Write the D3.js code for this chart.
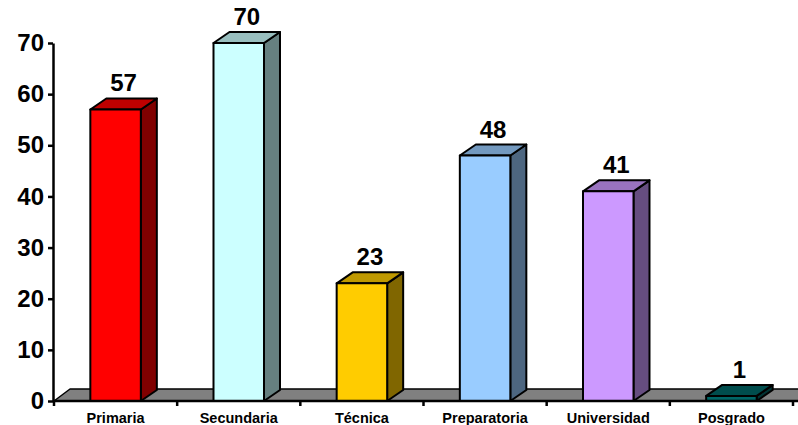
<!DOCTYPE html>
<html>
<head>
<meta charset="utf-8">
<script src="https://cdn.jsdelivr.net/npm/d3@7"></script>
<style>
  html, body { margin: 0; padding: 0; background: #fff; }
  svg { display: block; }
  text { font-family: "Liberation Sans", Arial, sans-serif; font-weight: bold; fill: #000; }
</style>
</head>
<body>
<svg id="chart" width="798" height="425"></svg>
<script>
// Nivel de estudios
const categories = ["Primaria", "Secundaria", "Técnica", "Preparatoria", "Universidad", "Posgrado"];
const values = [57, 70, 23, 48, 41, 1];
const colors = ["#FF0000", "#CCFFFF", "#FFCC00", "#99CCFF", "#CC99FF", "#006666"];
const yTicks = [0, 10, 20, 30, 40, 50, 60, 70];

const svg = d3.select("#chart");
const W = 798, H = 425;

// plot frame on the front plane
const x0 = 54, x1 = 793;
const yBase = 401, yTop = 43;
// oblique depth offset of the 3D extrusion
const dx = 16, dy = -11;

const x = d3.scaleBand().domain(categories).range([x0, x1]).padding(0);
const y = d3.scaleLinear().domain([0, 70]).range([yBase, yTop]);
const barW = x.bandwidth() * 0.41;

const shade = (c, k) => {
  const r = d3.rgb(c);
  return d3.rgb(r.r * k, r.g * k, r.b * k).formatHex();
};

// floor
svg.append("path")
  .attr("d", `M${x0},${yBase} L${x0 + dx},${yBase + dy - 1} L${W + 20},${yBase + dy - 1} L${W + 4},${yBase} Z`)
  .attr("fill", "#808080")
  .attr("stroke", "#000")
  .attr("stroke-width", 1.5)
  .attr("stroke-linejoin", "round");

// bars
const bars = svg.append("g").selectAll("g")
  .data(categories.map((c, i) => ({ cat: c, v: values[i], color: colors[i] })))
  .join("g");

bars.each(function (d) {
  const g = d3.select(this);
  const cx = x(d.cat) + x.bandwidth() / 2;
  const l = cx - barW / 2, r = cx + barW / 2;
  const t = y(d.v), b = y(0);
  const common = s => s.attr("stroke", "#000").attr("stroke-width", 2).attr("stroke-linejoin", "round");
  // side face
  common(g.append("path")
    .attr("d", `M${r},${b} L${r + dx},${b + dy} L${r + dx},${t + dy} L${r},${t} Z`)
    .attr("fill", shade(d.color, 0.5)));
  // top face
  common(g.append("path")
    .attr("d", `M${l},${t} L${l + dx},${t + dy} L${r + dx},${t + dy} L${r},${t} Z`)
    .attr("fill", shade(d.color, 0.75)));
  // front face
  common(g.append("rect")
    .attr("x", l).attr("y", t)
    .attr("width", barW).attr("height", b - t)
    .attr("fill", d.color));
  // value label
  g.append("text")
    .attr("x", cx + dx / 2)
    .attr("y", t + dy - 7)
    .attr("text-anchor", "middle")
    .attr("font-size", 24)
    .text(d.v);
});

// y axis
const yAxis = svg.append("g").attr("transform", `translate(${x0 - 1},0)`)
  .call(d3.axisLeft(y).tickValues(yTicks).tickSize(5).tickPadding(4).tickSizeOuter(0));
yAxis.select(".domain").attr("stroke", "#000").attr("stroke-width", 2.5);
yAxis.selectAll(".tick line").attr("stroke", "#000").attr("stroke-width", 2.5);
yAxis.selectAll(".tick text")
  .attr("font-size", 24)
  .attr("font-family", "Liberation Sans, Arial, sans-serif")
  .attr("font-weight", "bold")
  .attr("fill", "#000");

// x axis along the floor front edge
const xAxis = svg.append("g").attr("transform", `translate(0,${yBase})`);
xAxis.append("line")
  .attr("x1", x0).attr("x2", W)
  .attr("stroke", "#000").attr("stroke-width", 2.5);
const bounds = categories.map(c => x(c)).concat([x1]);
xAxis.selectAll("line.tk").data(bounds).join("line")
  .attr("class", "tk")
  .attr("x1", d => d).attr("x2", d => d)
  .attr("y1", 0).attr("y2", 5)
  .attr("stroke", "#000").attr("stroke-width", 2.5);
xAxis.selectAll("text").data(categories).join("text")
  .attr("x", d => x(d) + x.bandwidth() / 2)
  .attr("y", 22)
  .attr("text-anchor", "middle")
  .attr("font-size", 14.5)
  .text(d => d);
</script>
</body>
</html>
